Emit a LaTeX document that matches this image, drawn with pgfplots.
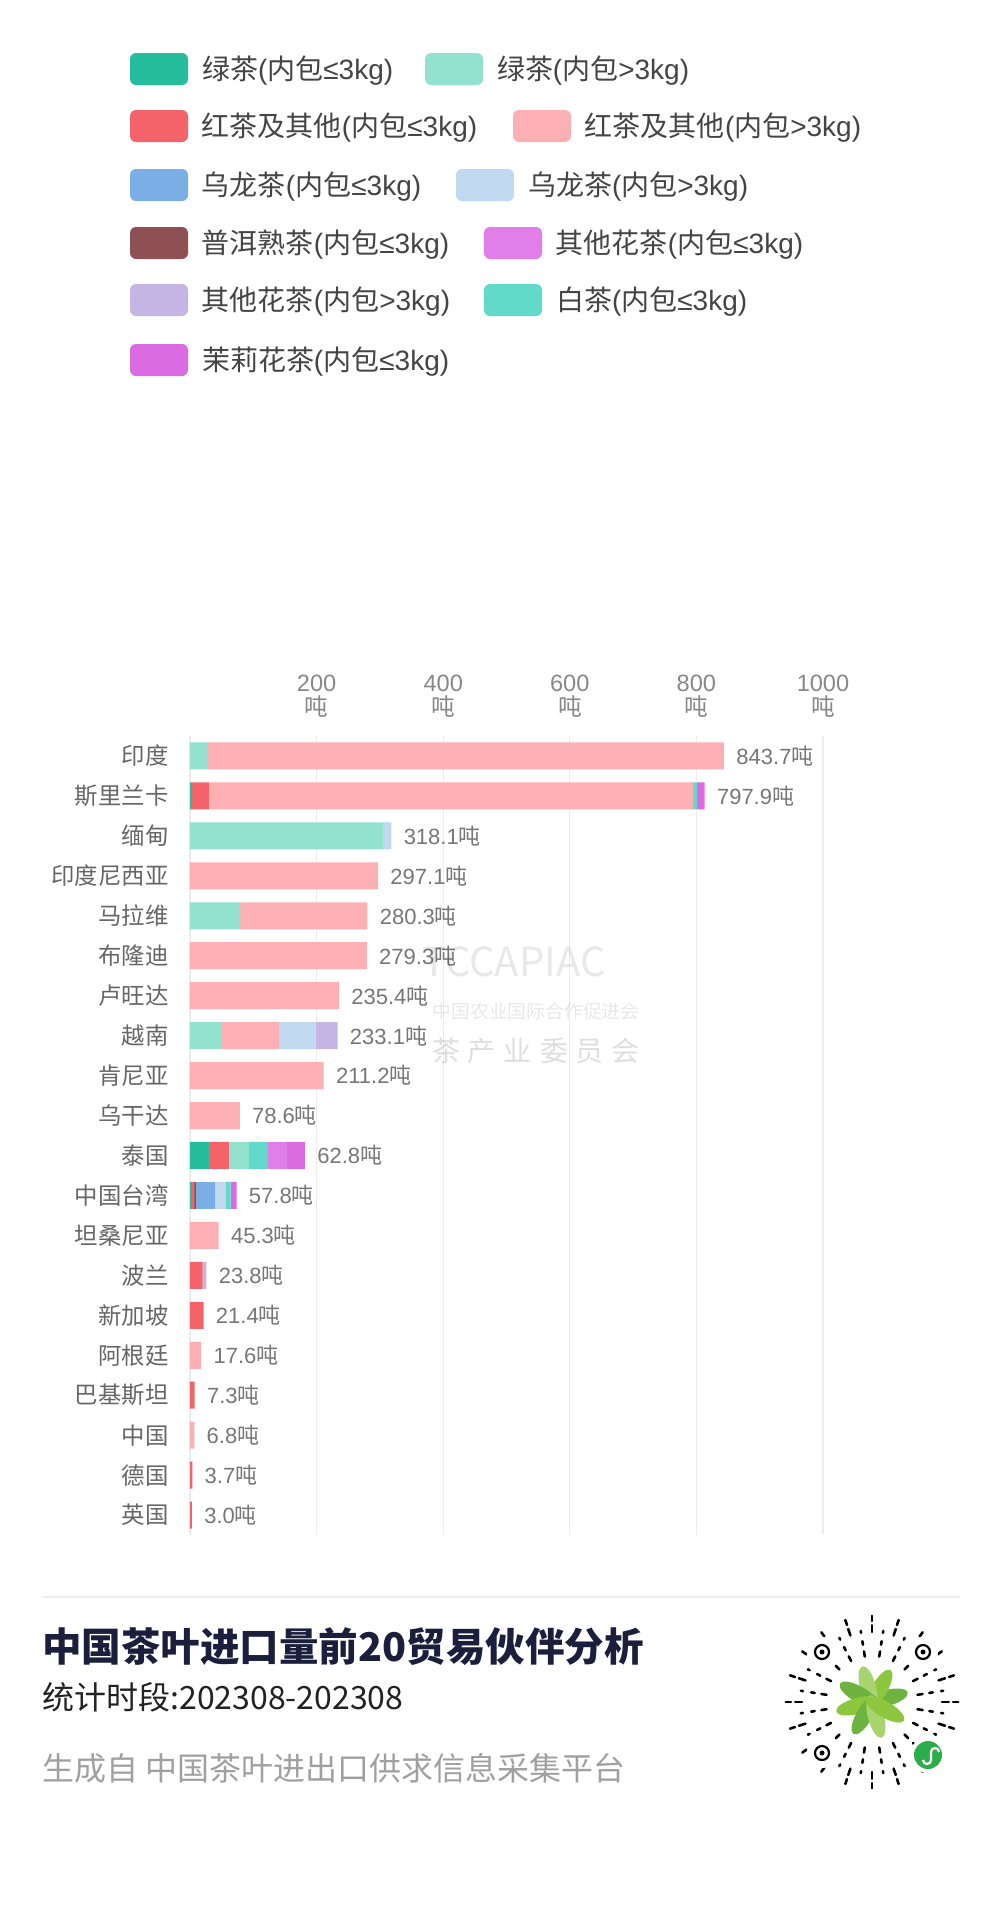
\documentclass[border=0pt]{standalone}
\usepackage{pgfplots}
\pgfplotsset{compat=1.18}
\usepackage{pgfplotstable}
\usepackage{fontspec}
\setmainfont{Noto Sans CJK SC}
\newfontfamily\lat{Liberation Sans}
\newcommand{\sm}{{\lat(}内包{\lat ≤3kg)}}
\newcommand{\bg}{{\lat(}内包{\lat >3kg)}}

\definecolor{g1}{HTML}{26BD9D}
\definecolor{g2}{HTML}{93E1CF}
\definecolor{r1}{HTML}{F5636A}
\definecolor{r2}{HTML}{FCB0B4}
\definecolor{o1}{HTML}{7AAEE5}
\definecolor{o2}{HTML}{C1D8F1}
\definecolor{pe}{HTML}{8E4F55}
\definecolor{f1}{HTML}{E27EE9}
\definecolor{f2}{HTML}{C4B5E4}
\definecolor{wt}{HTML}{62DACA}
\definecolor{jm}{HTML}{DA6BE2}
\definecolor{legtext}{HTML}{444444}
\definecolor{gridc}{HTML}{ECECEC}
\definecolor{catc}{HTML}{666666}
\definecolor{tickc}{HTML}{888888}
\definecolor{valc}{HTML}{777777}
\definecolor{titlec}{HTML}{1B1F3B}
\definecolor{subc}{HTML}{222222}
\definecolor{footc}{HTML}{A0A0A0}
\definecolor{sepc}{HTML}{EEEEEE}
\definecolor{leafa}{HTML}{6DB33F}
\definecolor{leafb}{HTML}{8DC63F}
\definecolor{leafc}{HTML}{A8D46F}
\definecolor{mpg}{HTML}{2BAE4A}

\pgfplotstableread{
idx g1 r1 pe g2 r2 o1 o2 wt f1 f2 jm lbl
0 0 0 0 27 816.7 0 0 0 0 0 0 843.7
1 3 27 0 0 765 0 0 6 0 0 12 797.9
2 0 0 0 305 0 0 13.1 0 0 0 0 318.1
3 0 0 0 0 297.1 0 0 0 0 0 0 297.1
4 0 0 0 79 201.3 0 0 0 0 0 0 280.3
5 0 0 0 0 279.3 0 0 0 0 0 0 279.3
6 0 0 0 0 235.4 0 0 0 0 0 0 235.4
7 0 0 0 49 92.5 0 57 0 0 34.6 0 233.1
8 0 0 0 0 211.2 0 0 0 0 0 0 211.2
9 0 0 0 0 78.6 0 0 0 0 0 0 78.6
10 30 31.6 0 31.6 0 0 0 30 30 0 28.4 62.8
11 3 4 3 0 0 29 17 8 0 0 9.5 57.8
12 0 0 0 0 45.3 0 0 0 0 0 0 45.3
13 0 20 0 0 0 0 0 0 0 6 0 23.8
14 0 21.4 0 0 0 0 0 0 0 0 0 21.4
15 0 0 0 0 17.6 0 0 0 0 0 0 17.6
16 0 7.3 0 0 0 0 0 0 0 0 0 7.3
17 0 0 0 0 6.8 0 0 0 0 0 0 6.8
18 0 3.7 0 0 0 0 0 0 0 0 0 3.7
19 0 3.0 0 0 0 0 0 0 0 0 0 3.0
}\data

\pgfplotsset{
  legaxis/.style={hide axis, scale only axis, width=1pt, height=1pt,
    xmin=0, xmax=1, ymin=0, ymax=1, anchor=west,
    legend columns=-1,
    legend image code/.code={\path[##1, rounded corners=3pt] (0pt,-8pt) rectangle (29pt,8pt);},
    legend style={at={(0,0.5)}, anchor=west, draw=none, fill=none,
      inner sep=0pt, outer sep=0pt,
      font=\fontsize{14pt}{16pt}\selectfont, text=legtext,
      nodes={inner sep=0pt},
      /tikz/every odd column/.append style={column sep=7pt},
      /tikz/every even column/.append style={column sep=0pt}}},
  mainframe/.style={at={(95pt,-368pt)}, anchor=north west,
    scale only axis, width=316.5pt, height=399.5pt,
    xmin=0, xmax=1000, ymin=-0.5, ymax=19.5, y dir=reverse},
}

\begin{document}
\begin{tikzpicture}
\fill[white] (0,0) rectangle (500pt,-953pt);
\useasboundingbox (0,0) rectangle (500pt,-953pt);

% ---- legend rows ----
\begin{axis}[legaxis, at={(65pt,-34.5pt)},
  legend style={/tikz/column 2/.style={nodes={text width=111.5pt, align=left}}}]
\addlegendimage{fill=g1, draw=none}\addlegendentry{绿茶\sm}
\addlegendimage{fill=g2, draw=none}\addlegendentry{绿茶\bg}
\end{axis}
\begin{axis}[legaxis, at={(65pt,-63pt)},
  legend style={/tikz/column 2/.style={nodes={text width=155.5pt, align=left}}}]
\addlegendimage{fill=r1, draw=none}\addlegendentry{红茶及其他\sm}
\addlegendimage{fill=r2, draw=none}\addlegendentry{红茶及其他\bg}
\end{axis}
\begin{axis}[legaxis, at={(65pt,-92.5pt)},
  legend style={/tikz/column 2/.style={nodes={text width=127pt, align=left}}}]
\addlegendimage{fill=o1, draw=none}\addlegendentry{乌龙茶\sm}
\addlegendimage{fill=o2, draw=none}\addlegendentry{乌龙茶\bg}
\end{axis}
\begin{axis}[legaxis, at={(65pt,-121.5pt)},
  legend style={/tikz/column 2/.style={nodes={text width=141pt, align=left}}}]
\addlegendimage{fill=pe, draw=none}\addlegendentry{普洱熟茶\sm}
\addlegendimage{fill=f1, draw=none}\addlegendentry{其他花茶\sm}
\end{axis}
\begin{axis}[legaxis, at={(65pt,-150pt)},
  legend style={/tikz/column 2/.style={nodes={text width=141pt, align=left}}}]
\addlegendimage{fill=f2, draw=none}\addlegendentry{其他花茶\bg}
\addlegendimage{fill=wt, draw=none}\addlegendentry{白茶\sm}
\end{axis}
\begin{axis}[legaxis, at={(65pt,-180pt)}]
\addlegendimage{fill=jm, draw=none}\addlegendentry{茉莉花茶\sm}
\end{axis}

% ---- main chart ----
\begin{axis}[mainframe,
  xbar stacked, bar width=13.5pt,
  axis line style={draw=none},
  major tick length=0pt, tick style={draw=none},
  xtick={200,400,600,800,1000},
  xticklabels={{{\lat 200}\\吨},{{\lat 400}\\吨},{{\lat 600}\\吨},{{\lat 800}\\吨},{{\lat 1000}\\吨}},
  xticklabel pos=upper,
  xticklabel style={align=center, inner sep=0pt, yshift=9pt,
    font=\fontsize{11.8pt}{12.3pt}\selectfont, text=tickc},
  extra x ticks={0}, extra x tick labels={},
  extra x tick style={grid=major},
  xmajorgrids, grid style={draw=gridc, line width=0.6pt},
  ytick={0,...,19},
  yticklabels={印度,斯里兰卡,缅甸,印度尼西亚,马拉维,布隆迪,卢旺达,越南,肯尼亚,乌干达,泰国,中国台湾,坦桑尼亚,波兰,新加坡,阿根廷,巴基斯坦,中国,德国,英国},
  yticklabel style={inner sep=0pt, xshift=-10.5pt,
    font=\fontsize{11.7pt}{13pt}\selectfont, text=catc},
]
\addplot[fill=g1, draw=none, forget plot] table[x=g1, y=idx] {\data};
\addplot[fill=r1, draw=none, forget plot] table[x=r1, y=idx] {\data};
\addplot[fill=pe, draw=none, forget plot] table[x=pe, y=idx] {\data};
\addplot[fill=g2, draw=none, forget plot] table[x=g2, y=idx] {\data};
\addplot[fill=r2, draw=none, forget plot] table[x=r2, y=idx] {\data};
\addplot[fill=o1, draw=none, forget plot] table[x=o1, y=idx] {\data};
\addplot[fill=o2, draw=none, forget plot] table[x=o2, y=idx] {\data};
\addplot[fill=wt, draw=none, forget plot] table[x=wt, y=idx] {\data};
\addplot[fill=f1, draw=none, forget plot] table[x=f1, y=idx] {\data};
\addplot[fill=f2, draw=none, forget plot] table[x=f2, y=idx] {\data};
\addplot[fill=jm, draw=none, forget plot] table[x=jm, y=idx] {\data};
\end{axis}

% ---- value labels at the bar ends ----
\begin{axis}[mainframe, hide axis, clip=false]
\addplot[only marks, mark=none,
  point meta=explicit symbolic,
  nodes near coords={{\lat\pgfplotspointmeta}吨},
  nodes near coords style={anchor=west, inner sep=0pt, xshift=6pt,
    font=\fontsize{11pt}{12pt}\selectfont, text=valc}]
  table[x expr=\thisrow{g1}+\thisrow{r1}+\thisrow{pe}+\thisrow{g2}+\thisrow{r2}+\thisrow{o1}+\thisrow{o2}+\thisrow{wt}+\thisrow{f1}+\thisrow{f2}+\thisrow{jm},
        y=idx, meta=lbl] {\data};
\end{axis}

% ---- watermark, footer, code ----
\begin{scope}[x=0.5pt, y=-0.5pt]
\node[text=black, opacity=0.09, font=\fontsize{20pt}{22pt}\selectfont] at (514,962) {TCCAPIAC};
\node[text=black, opacity=0.09, font=\fontsize{9.4pt}{10pt}\selectfont] at (536,1011) {中国农业国际合作促进会};
\node[text=black, opacity=0.13, font=\fontsize{14pt}{15pt}\selectfont] at (536,1051) {茶\hspace{4pt}产\hspace{4pt}业\hspace{4pt}委\hspace{4pt}员\hspace{4pt}会};

\draw[sepc, line width=1pt] (42,1597) -- (960,1597);
\node[anchor=west, inner sep=0pt, text=titlec, font=\bfseries\fontsize{19.75pt}{22pt}\selectfont] at (42,1647) {中国茶叶进口量前20贸易伙伴分析};
\node[anchor=west, inner sep=0pt, text=subc, font=\fontsize{16pt}{18pt}\selectfont] at (42,1697) {统计时段:202308-202308};
\node[anchor=west, inner sep=0pt, text=footc, font=\fontsize{16pt}{18pt}\selectfont] at (42,1768) {生成自 中国茶叶进出口供求信息采集平台};
\end{scope}

\begin{scope}[x=0.5pt, y=-0.5pt, shift={(872,1702)}]
\foreach \a in {0,9,...,351}{
  \foreach \r/\k in {46/1,58/2,70/3,81/4}{
    \pgfmathsetmacro{\m}{mod(\a*7+\k*11,6)}
    \ifdim\m pt<4pt
      \draw[line width=1.3pt, line cap=round] (\a:\r) -- (\a:{\r+2+\m*1.6});
    \fi
  }
}
\foreach \p in {(-50,-50),(51,-50),(-50,51)}{
  \fill[white] \p circle (15);
  \draw[line width=1.1pt] \p circle (7);
  \fill \p circle (2.5);
}
\fill[white] (56,53) circle (18);
\fill[mpg] (56,53) circle (14);
\draw[white, line width=1.1pt] (51,58) arc (180:0:4) -- (59,50) arc (180:360:4);
\fill[white] (0,0) circle (42);
\foreach \ang/\c in {15/leafa,60/leafb,105/leafc,150/leafa,195/leafb,240/leafa,285/leafc,330/leafb}{
  \fill[\c, rotate=\ang] (15,0) ellipse (22 and 8);
}
\end{scope}
\end{tikzpicture}
\end{document}
